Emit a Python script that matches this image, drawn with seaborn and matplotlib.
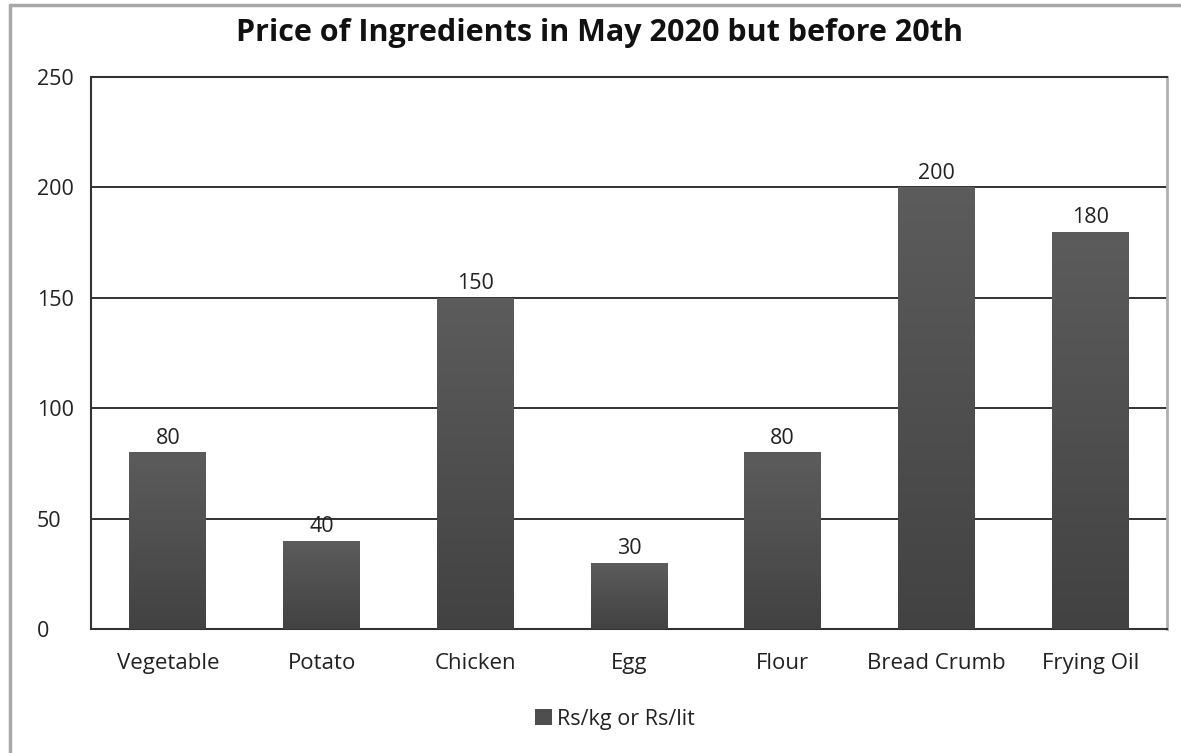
import numpy as np
import pandas as pd
import matplotlib
matplotlib.use("Agg")
import matplotlib.pyplot as plt
import seaborn as sns
from matplotlib.lines import Line2D
from matplotlib.patches import Patch
from matplotlib.colors import LinearSegmentedColormap

categories = ["Vegetable", "Potato", "Chicken", "Egg", "Flour", "Bread Crumb", "Frying Oil"]
prices = [80, 40, 150, 30, 80, 200, 180]
series_name = "Rs/kg or Rs/lit"
yticks = [0, 50, 100, 150, 200, 250]
title = "Price of Ingredients in May 2020 but before 20th"

df = pd.DataFrame({"Ingredient": categories, "Price": prices})

sns.set_theme(style="white")
plt.rcParams["font.family"] = ["Open Sans", "DejaVu Sans"]

fig = plt.figure(figsize=(11.81, 7.53), dpi=100)
ax = fig.add_axes([91/1181, 1-629/753, (1167-91)/1181, (629-77)/753])

sns.barplot(data=df, x="Ingredient", y="Price", ax=ax, color="#4e4e4e",
            width=0.5, saturation=1, edgecolor="none", zorder=3)

# vertical gradient inside each bar
grad = np.linspace(0, 1, 256).reshape(-1, 1)
cmap = LinearSegmentedColormap.from_list("g", ["#424242", "#5c5c5c"])
for p in ax.patches:
    x0, y0 = p.get_x(), p.get_y()
    w, h = p.get_width(), p.get_height()
    im = ax.imshow(grad, extent=(x0, x0 + w, y0, y0 + h), origin="lower",
                   cmap=cmap, aspect="auto", zorder=3.5)
    im.set_clip_path(p)
    ax.text(x0 + w/2, y0 + h + 1.5, f"{int(h)}", ha="center", va="bottom",
            fontsize=15.5, color="#222222", zorder=5)

ax.set_xlim(-0.5, len(categories) - 0.5)
ax.set_ylim(0, 250)
ax.set_yticks(yticks)
ax.set_yticklabels([str(v) for v in yticks], fontsize=15.5, color="#222222", ha="left")
ax.tick_params(axis="y", pad=39, length=0)
ax.tick_params(axis="x", pad=17, length=0, labelsize=16, labelcolor="#222222")
ax.set_xlabel("")
ax.set_ylabel("")
for v in yticks[1:-1]:
    ax.axhline(v, color="#222222", lw=1.3, zorder=2)

for s in ["left", "bottom", "top"]:
    ax.spines[s].set_color("#333333")
    ax.spines[s].set_linewidth(1.5)
ax.spines["right"].set_color("#b0b0b0")
ax.spines["right"].set_linewidth(2)
for s in ax.spines.values():
    s.set_visible(True)

fig.text(0.508, 1 - 33/753, title, ha="center", va="center",
         fontsize=22, fontweight="bold", color="#111111")

handle = Patch(facecolor="#4e4e4e", edgecolor="none")
fig.legend([handle], [series_name], loc="center", bbox_to_anchor=(615/1181, 1 - 719/753),
           frameon=False, fontsize=15.5, handlelength=0.8, handleheight=0.8,
           handletextpad=0.25, labelcolor="#222222")

# outer frame (top and left)
fig.add_artist(Line2D([10/1181, 10/1181], [0, 1 - 5/753], transform=fig.transFigure,
                      color="#a8a8a8", lw=2.5))
fig.add_artist(Line2D([10/1181, 1], [1 - 5/753, 1 - 5/753], transform=fig.transFigure,
                      color="#a8a8a8", lw=2.5))

fig.savefig("out.png", dpi=100, facecolor="white")
